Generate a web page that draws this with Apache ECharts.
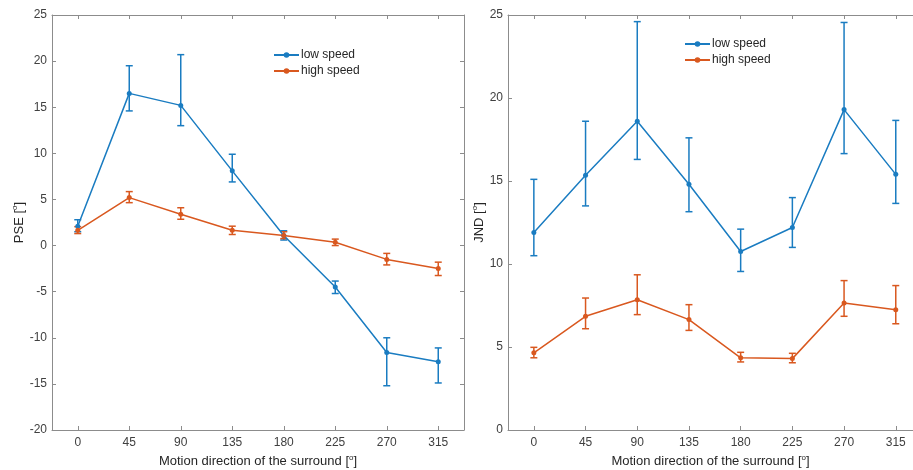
<!DOCTYPE html>
<html lang="en">

<head>
    <meta charset="UTF-8">
    <title>PSE / JND</title>
    <script type="text/javascript" src="https://cdn.jsdelivr.net/npm/echarts@6/dist/echarts.min.js"></script>
    <style>
        html,
        body {
            margin: 0;
            padding: 0;
            width: 100%;
            height: 100%;
            background: #fff;
        }

        #container {
            width: 913px;
            height: 470px;
        }
    </style>
</head>

<body>
    <div id="container"></div>
    <script>
        // motion direction of the surround, degrees
        let angles = [0, 45, 90, 135, 180, 225, 270, 315];

        // PSE, low speed
        let pseLowMean = [2.1, 16.5, 15.2, 8.1, 1.1, -4.5, -11.6, -12.6];
        let pseLowLower = [1.5, 14.6, 13.0, 6.9, 0.6, -5.2, -15.2, -14.9];
        let pseLowUpper = [2.8, 19.5, 20.7, 9.9, 1.6, -3.85, -10.0, -11.1];
        // PSE, high speed
        let pseHighMean = [1.65, 5.2, 3.4, 1.65, 1.1, 0.35, -1.5, -2.5];
        let pseHighLower = [1.3, 4.65, 2.85, 1.2, 0.75, 0.0, -2.1, -3.25];
        let pseHighUpper = [2.05, 5.85, 4.1, 2.1, 1.5, 0.7, -0.85, -1.8];

        // JND, low speed
        let jndLowMean = [11.9, 15.35, 18.6, 14.8, 10.75, 12.2, 19.3, 15.4];
        let jndLowLower = [10.5, 13.5, 16.3, 13.15, 9.55, 11.0, 16.65, 13.65];
        let jndLowUpper = [15.1, 18.6, 24.6, 17.6, 12.1, 14.0, 24.55, 18.65];
        // JND, high speed
        let jndHighMean = [4.65, 6.85, 7.85, 6.65, 4.35, 4.3, 7.65, 7.25];
        let jndHighLower = [4.35, 6.1, 6.95, 6.0, 4.1, 4.05, 6.85, 6.4];
        let jndHighUpper = [4.98, 7.95, 9.35, 7.55, 4.68, 4.62, 9.0, 8.7];

        let blue = '#1a7cc1';
        let orange = '#d9581f';
        let axisColor = '#8c8c8c';
        let textColor = '#404040';
        let font = 'Liberation Sans, Arial, sans-serif';

        let chart = echarts.init(document.getElementById('container'));

        let supRich = {
            sup: {
                fontSize: 8,
                fontFamily: font,
                color: '#262626',
                padding: [0, 0, 8, 0],
            },
        };

        // the right panel runs past the edge of the picture, so its x range is cut short
        function xAxisFor(gridIndex, isTop, max) {
            return {
                type: 'value',
                gridIndex: gridIndex,
                min: -22.5,
                max: max,
                position: isTop ? 'top' : 'bottom',
                name: isTop ? '' : 'Motion direction of the surround [{sup|o}]',
                nameLocation: 'middle',
                nameGap: 23,
                nameTextStyle: {
                    fontSize: 13,
                    fontFamily: font,
                    color: '#262626',
                    rich: supRich,
                },
                axisLine: { onZero: false, lineStyle: { color: axisColor, width: 1 } },
                axisTick: { show: true, inside: true, length: 4, customValues: angles, lineStyle: { color: axisColor } },
                axisLabel: { show: !isTop, margin: 7, customValues: angles, fontSize: 12, fontFamily: font, color: textColor },
                splitLine: { show: false },
            };
        }

        function yAxisFor(gridIndex, min, max, name, isRight, hidden, gap) {
            return {
                type: 'value',
                gridIndex: gridIndex,
                show: !hidden,
                min: min,
                max: max,
                interval: 5,
                position: isRight ? 'right' : 'left',
                name: isRight ? '' : name,
                nameLocation: 'middle',
                nameGap: gap,
                nameTextStyle: {
                    fontSize: 13,
                    fontFamily: font,
                    color: '#262626',
                    rich: supRich,
                },
                axisLine: { show: true, onZero: false, lineStyle: { color: axisColor, width: 1 } },
                axisTick: { show: true, inside: true, length: 4, lineStyle: { color: axisColor } },
                axisLabel: { show: !isRight, margin: 5, fontSize: 12, fontFamily: font, color: textColor },
                splitLine: { show: false },
            };
        }

        function errorBars(gridIndex, lower, upper, color) {
            return {
                type: 'custom',
                xAxisIndex: gridIndex * 2,
                yAxisIndex: gridIndex * 2,
                z: 2,
                silent: true,
                data: lower.map((lo, i) => [angles[i], lo, upper[i]]),
                renderItem: (params, api) => {
                    let top = api.coord([api.value(0), api.value(2)]);
                    let bottom = api.coord([api.value(0), api.value(1)]);
                    let half = 3.5;
                    let style = { stroke: color, lineWidth: 1.5 };
                    return {
                        type: 'group',
                        children: [
                            { type: 'line', shape: { x1: top[0], y1: top[1], x2: bottom[0], y2: bottom[1] }, style: style },
                            { type: 'line', shape: { x1: top[0] - half, y1: top[1], x2: top[0] + half, y2: top[1] }, style: style },
                            { type: 'line', shape: { x1: bottom[0] - half, y1: bottom[1], x2: bottom[0] + half, y2: bottom[1] }, style: style },
                        ],
                    };
                },
            };
        }

        function meanLine(gridIndex, name, values, color) {
            return {
                name: name,
                type: 'line',
                xAxisIndex: gridIndex * 2,
                yAxisIndex: gridIndex * 2,
                z: 3,
                data: values.map((v, i) => [angles[i], v]),
                symbol: 'circle',
                symbolSize: 5,
                color: color,
                lineStyle: { color: color, width: 1.5 },
                itemStyle: { color: color },
            };
        }

        function legendAt(left, top) {
            return {
                left: left,
                top: top,
                orient: 'vertical',
                itemWidth: 25,
                itemHeight: 7,
                itemGap: 4,
                selectedMode: false,
                data: ['low speed', 'high speed'],
                textStyle: { fontSize: 12, fontFamily: font, color: '#262626', padding: [0, 0, 0, -3] },
            };
        }

        let option = {
            animation: false,
            backgroundColor: '#fff',
            grid: [
                { left: 52, top: 15, width: 412, height: 415, outerBoundsMode: 'none' },
                { left: 508, top: 15, right: 0, height: 415, outerBoundsMode: 'none' },
            ],
            xAxis: [
                xAxisFor(0, false, 337.5),
                xAxisFor(0, true, 337.5),
                xAxisFor(1, false, 330),
                xAxisFor(1, true, 330),
            ],
            yAxis: [
                yAxisFor(0, -20, 25, 'PSE [{sup|o}]', false, false, 18),
                yAxisFor(0, -20, 25, '', true, false, 18),
                yAxisFor(1, 0, 25, 'JND [{sup|o}]', false, false, 19),
                yAxisFor(1, 0, 25, '', true, true, 19),
            ],
            legend: [legendAt(268, 44), legendAt(679, 33)],
            series: [
                errorBars(0, pseLowLower, pseLowUpper, blue),
                errorBars(0, pseHighLower, pseHighUpper, orange),
                meanLine(0, 'low speed', pseLowMean, blue),
                meanLine(0, 'high speed', pseHighMean, orange),
                errorBars(1, jndLowLower, jndLowUpper, blue),
                errorBars(1, jndHighLower, jndHighUpper, orange),
                meanLine(1, 'low speed', jndLowMean, blue),
                meanLine(1, 'high speed', jndHighMean, orange),
            ],
        };
        chart.setOption(option);
    </script>
</body>

</html>
